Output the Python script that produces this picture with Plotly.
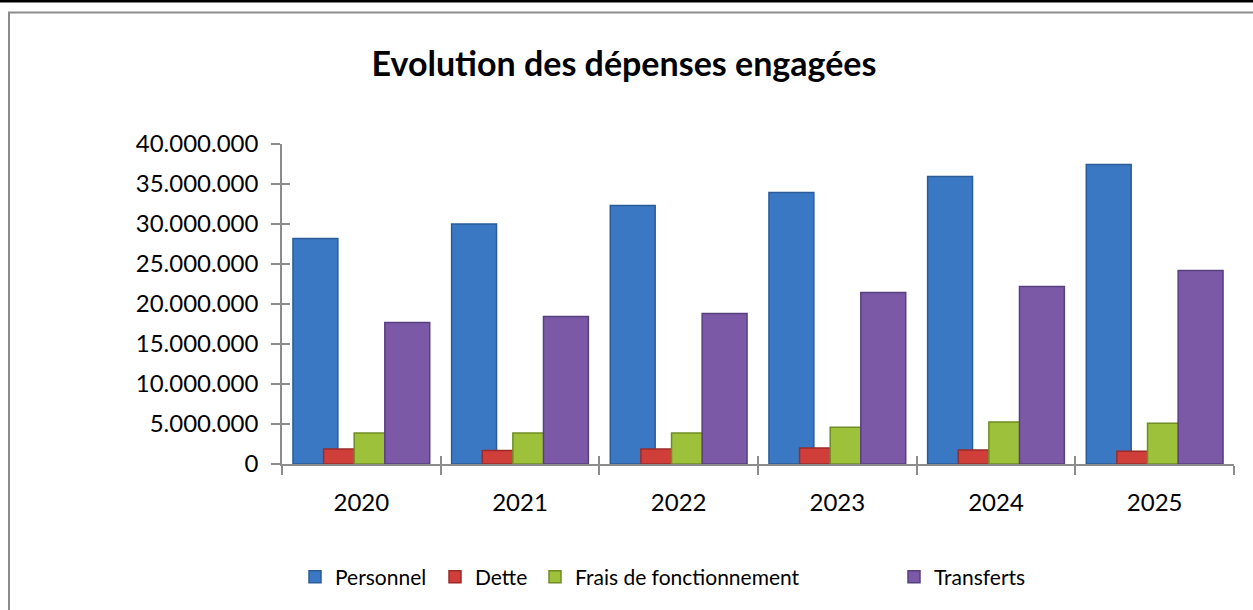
import plotly.graph_objects as go

years = ["2020", "2021", "2022", "2023", "2024", "2025"]
personnel = [28200000, 30000000, 32300000, 33950000, 35950000, 37450000]
dette = [1870000, 1700000, 1870000, 2000000, 1750000, 1600000]
frais = [3870000, 3870000, 3870000, 4600000, 5250000, 5100000]
transferts = [17700000, 18450000, 18800000, 21450000, 22200000, 24200000]

series = [
    ("Personnel", personnel, "#3B78C3", "#2B5C99"),
    ("Dette", dette, "#D03E3A", "#9B2B29"),
    ("Frais de fonctionnement", frais, "#9DC13A", "#6F8C25"),
    ("Transferts", transferts, "#7B59A7", "#57407E"),
]
legend_ids = ["legend", "legend2", "legend3", "legend4"]
legend_text_px = [335, 475, 575, 934]

W, H = 1253, 610
L, R, T, B = 282, 19, 144, 146
pw, ph = W - L - R, H - T - B

bar_w = 0.283
step = 0.193
start = -0.431

fig = go.Figure()
for i, (name, vals, col, edge) in enumerate(series):
    fig.add_trace(go.Bar(
        x=years, y=vals, name=name,
        width=bar_w, offset=start + i * step,
        marker=dict(color=col, line=dict(color=edge, width=1.5)),
        legend=legend_ids[i],
    ))

font = "Lato, 'Open Sans', sans-serif"
axis_col = "#8C8C8C"


def px_x(p):
    return (p - L) / pw


def px_y(p):
    return (H - B - p) / ph


legend_common = dict(
    orientation="h", yanchor="middle", xanchor="left",
    font=dict(family=font, size=21, color="#000000"),
    itemwidth=30, bgcolor="rgba(0,0,0,0)",
)
legends = {}
for lid, tx in zip(legend_ids, legend_text_px):
    legends[lid] = dict(legend_common, x=px_x(tx - 40), y=px_y(577))

fig.update_layout(
    width=W, height=H,
    margin=dict(l=L, r=R, t=T, b=B),
    barmode="overlay",
    separators=",.",
    paper_bgcolor="white",
    plot_bgcolor="white",
    font=dict(family=font, size=21, color="#000000"),
    title=dict(
        text="<b>Evolution des dépenses engagées</b>",
        x=624 / W, xanchor="center",
        y=1 - 64 / H, yanchor="middle",
        font=dict(family=font, size=34, color="#000000"),
    ),
    xaxis=dict(
        type="category", range=[-0.5, 5.5], showline=True, linecolor=axis_col, linewidth=1.5,
        ticks="outside", ticklen=9, tickwidth=1.5, tickcolor=axis_col,
        tickson="boundaries", showgrid=False, zeroline=False,
        ticklabelstandoff=16,
        tickfont=dict(family=font, size=24, color="#000000"),
    ),
    yaxis=dict(
        range=[0, 40000000], dtick=5000000, tickformat=",d",
        showline=True, linecolor=axis_col, linewidth=1.5,
        ticks="outside", ticklen=9, tickwidth=1.5, tickcolor=axis_col,
        showgrid=False, zeroline=False, ticklabelstandoff=8,
        tickfont=dict(family=font, size=24, color="#000000"),
    ),
    yaxis2=dict(
        overlaying="y", range=[0, 40000000], dtick=5000000,
        ticks="inside", ticklen=8, tickwidth=1.5, tickcolor=axis_col,
        showticklabels=False, showgrid=False, zeroline=False, showline=False,
    ),
    xaxis2=dict(
        overlaying="x", type="category", categoryarray=years, range=[-0.5, 5.5],
        ticks="inside", ticklen=8, tickwidth=1.5, tickcolor=axis_col,
        tickson="boundaries", showticklabels=False, showgrid=False,
        zeroline=False, showline=False,
    ),
    showlegend=True,
    **legends,
)

# invisible trace to activate secondary axes for inner tick marks
fig.add_trace(go.Scatter(x=years, y=[None] * len(years), xaxis="x2", yaxis="y2",
                         showlegend=False, hoverinfo="skip", mode="lines"))

# chart frame and top rule
fig.add_shape(type="rect", xref="paper", yref="paper",
              x0=px_x(9), x1=px_x(1265), y0=px_y(12.5), y1=px_y(625),
              line=dict(color="#8C8C8C", width=2), fillcolor="rgba(0,0,0,0)", layer="below")
fig.add_shape(type="line", xref="paper", yref="paper",
              x0=px_x(-5), x1=px_x(1260), y0=px_y(1), y1=px_y(1),
              line=dict(color="#000000", width=3))

fig.write_html("out.html", config={"displayModeBar": False},
               post_script="document.body.style.margin='0';")
